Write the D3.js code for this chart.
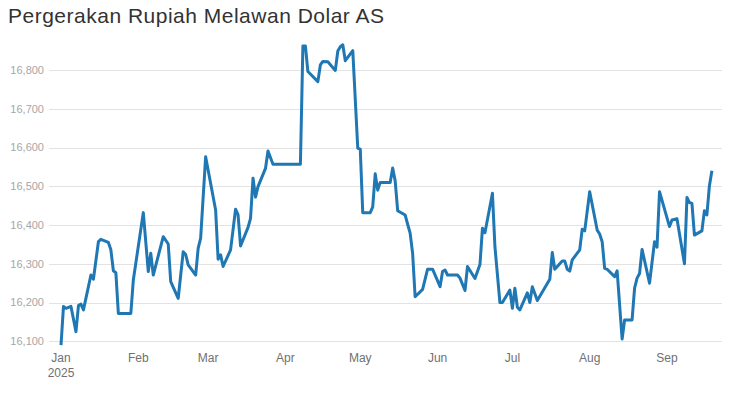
<!DOCTYPE html>
<html>
<head>
<meta charset="utf-8">
<script src="https://cdn.jsdelivr.net/npm/d3@7"></script>
<style>
  body { margin: 0; background: #fff; font-family: "Liberation Sans", Arial, sans-serif; }
  .title { font-size: 21px; fill: #333; letter-spacing: 0.5px; }
  .grid line { stroke: #e3e3e3; stroke-width: 1; }
  .y-label { font-size: 11px; fill: #a6a6a6; }
  .x-label { font-size: 12px; fill: #707070; }
</style>
</head>
<body>
<svg id="chart" width="736" height="394"></svg>
<script>
// USD/IDR closing rate, 2025
var dates = [
  "2025-01-01","2025-01-02","2025-01-03","2025-01-05","2025-01-07","2025-01-08","2025-01-09","2025-01-10",
  "2025-01-13","2025-01-14","2025-01-16","2025-01-17","2025-01-20","2025-01-21","2025-01-22","2025-01-23",
  "2025-01-24","2025-01-29","2025-01-30","2025-02-03","2025-02-05","2025-02-06","2025-02-07","2025-02-11",
  "2025-02-13","2025-02-14","2025-02-17","2025-02-19","2025-02-20","2025-02-21","2025-02-24","2025-02-25",
  "2025-02-26","2025-02-28","2025-03-04","2025-03-05","2025-03-06","2025-03-07","2025-03-10","2025-03-12",
  "2025-03-13","2025-03-14","2025-03-17","2025-03-18","2025-03-19","2025-03-20","2025-03-21","2025-03-24",
  "2025-03-25","2025-03-27","2025-04-07","2025-04-08","2025-04-09","2025-04-10","2025-04-14","2025-04-15",
  "2025-04-16","2025-04-18","2025-04-21","2025-04-22","2025-04-23","2025-04-24","2025-04-25","2025-04-28",
  "2025-04-30","2025-05-01","2025-05-02","2025-05-05","2025-05-06","2025-05-07","2025-05-08","2025-05-09",
  "2025-05-13","2025-05-14","2025-05-15","2025-05-16","2025-05-19","2025-05-20","2025-05-21","2025-05-22",
  "2025-05-23","2025-05-26","2025-05-28","2025-05-30","2025-06-02","2025-06-03","2025-06-04","2025-06-05",
  "2025-06-09","2025-06-10","2025-06-12","2025-06-13","2025-06-16","2025-06-18","2025-06-19","2025-06-20",
  "2025-06-23","2025-06-24","2025-06-26","2025-06-27","2025-06-30","2025-07-01","2025-07-02","2025-07-03",
  "2025-07-04","2025-07-07","2025-07-08","2025-07-09","2025-07-11","2025-07-16","2025-07-17","2025-07-18",
  "2025-07-21","2025-07-22","2025-07-23","2025-07-24","2025-07-25","2025-07-28","2025-07-29","2025-07-30",
  "2025-08-01","2025-08-04","2025-08-05","2025-08-06","2025-08-07","2025-08-08","2025-08-11","2025-08-12",
  "2025-08-14","2025-08-15","2025-08-18","2025-08-19","2025-08-20","2025-08-21","2025-08-22","2025-08-25",
  "2025-08-27","2025-08-28","2025-08-29","2025-09-02","2025-09-03","2025-09-05","2025-09-08","2025-09-09",
  "2025-09-10","2025-09-11","2025-09-12","2025-09-15","2025-09-16","2025-09-17","2025-09-18","2025-09-19"
];
var rates = [
  16090,16190,16185,16190,16125,16192,16196,16181,
  16271,16260,16357,16363,16355,16336,16282,16277,
  16172,16172,16258,16432,16280,16327,16271,16370,
  16351,16254,16211,16331,16324,16297,16271,16340,
  16366,16576,16439,16312,16323,16293,16336,16441,
  16426,16346,16394,16417,16521,16472,16499,16546,
  16591,16557,16557,16862,16862,16796,16770,16813,
  16822,16821,16799,16849,16860,16865,16824,16850,
  16598,16596,16432,16432,16447,16532,16490,16510,
  16510,16547,16514,16437,16426,16402,16379,16327,
  16215,16234,16286,16286,16241,16280,16284,16271,
  16271,16263,16231,16293,16262,16298,16392,16380,
  16482,16344,16200,16200,16232,16185,16237,16188,
  16181,16225,16200,16241,16205,16260,16329,16286,
  16307,16307,16286,16281,16310,16336,16389,16385,
  16486,16387,16377,16357,16288,16286,16267,16282,
  16106,16155,16155,16237,16263,16275,16337,16250,
  16357,16343,16486,16396,16413,16416,16300,16471,
  16458,16456,16374,16385,16437,16426,16501,16540
];
var yTicks = [16100,16200,16300,16400,16500,16600,16700,16800];
var monthTicks = ["2025-01-01","2025-02-01","2025-03-01","2025-04-01","2025-05-01",
                  "2025-06-01","2025-07-01","2025-08-01","2025-09-01"];
var titleText = "Pergerakan Rupiah Melawan Dolar AS";

var parse = d3.timeParse("%Y-%m-%d");
var data = dates.map(function(d, i){ return {date: parse(d), value: rates[i]}; });

var svg = d3.select("#chart");
var gridLeft = 49, gridRight = 722;

var x = d3.scaleTime()
  .domain([parse("2025-01-01"), parse("2025-09-01")])
  .range([61, 667]);
var y = d3.scaleLinear()
  .domain([16100, 16800])
  .range([341.3, 70]);

svg.append("text")
  .attr("class", "title")
  .attr("x", 8)
  .attr("y", 23)
  .text(titleText);

// horizontal grid + y labels
var grid = svg.append("g").attr("class", "grid");
grid.selectAll("line")
  .data(yTicks)
  .enter()
  .append("line")
  .attr("x1", gridLeft)
  .attr("x2", gridRight)
  .attr("y1", function(d){ return Math.round(y(d)) + 0.5; })
  .attr("y2", function(d){ return Math.round(y(d)) + 0.5; });

svg.selectAll(".y-label")
  .data(yTicks)
  .enter()
  .append("text")
  .attr("class", "y-label")
  .attr("x", 44)
  .attr("y", function(d){ return y(d); })
  .attr("dy", "0.35em")
  .attr("text-anchor", "end")
  .text(d3.format(","));

// month labels
var xl = svg.selectAll(".x-label")
  .data(monthTicks.map(parse))
  .enter()
  .append("text")
  .attr("class", "x-label")
  .attr("text-anchor", "middle")
  .attr("x", function(d){ return x(d); })
  .attr("y", 362);
xl.append("tspan")
  .text(d3.timeFormat("%b"));
xl.filter(function(d){ return d.getMonth() === 0; })
  .append("tspan")
  .attr("x", function(d){ return x(d); })
  .attr("dy", 15)
  .text(d3.timeFormat("%Y"));

var line = d3.line()
  .x(function(d){ return x(d.date); })
  .y(function(d){ return y(d.value); });

svg.append("path")
  .datum(data)
  .attr("fill", "none")
  .attr("stroke", "#1f77b4")
  .attr("stroke-width", 3)
  .attr("stroke-linejoin", "round")
  .attr("d", line);
</script>
</body>
</html>
